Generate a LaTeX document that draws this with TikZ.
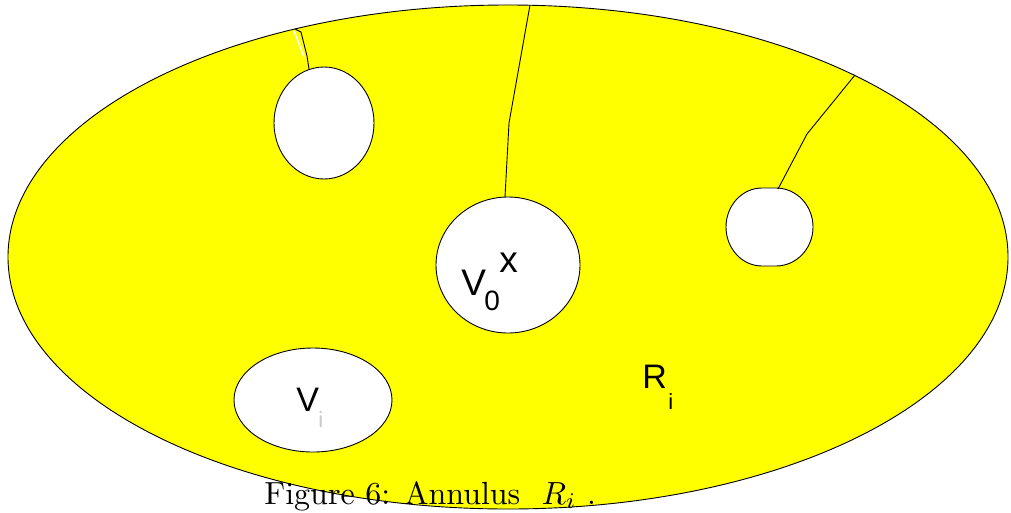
\documentclass[tikz,border=0pt]{standalone}
\usepackage{fontspec}
\newfontfamily\lab{Liberation Sans}
\definecolor{fillyellow}{RGB}{255,255,0}
\begin{document}
\begin{tikzpicture}[x=1pt,y=-1pt, line width=0.9pt,
  hole/.style={fill=white,draw=black},
  lbl/.style={inner sep=0pt, anchor=base west},
  bigl/.style={lbl, font=\lab\fontsize{37}{37}\selectfont},
  midl/.style={lbl, font=\lab\fontsize{34}{34}\selectfont},
  subl/.style={lbl, font=\lab\fontsize{28}{28}\selectfont},
  smalll/.style={lbl, font=\lab\fontsize{22}{22}\selectfont}]
\useasboundingbox (0,0) rectangle (1011,512);
\fill[white] (0,0) rectangle (1011,512);
% annulus
\draw[fill=fillyellow] (508,257) ellipse [x radius=500, y radius=252];
% holes
\draw[hole] (324,123) ellipse [x radius=50, y radius=56];
\draw[hole] (508,265) ellipse [x radius=72, y radius=68];
\draw[hole] (313,400) ellipse [x radius=79, y radius=52];
\draw[hole] (762,188) -- (776,188) arc[start angle=90, end angle=-90, x radius=37, y radius=-39]
  -- (762,266) arc[start angle=-90, end angle=-270, x radius=36, y radius=-39] -- cycle;
% cuts
\coordinate (c1a) at (295,29);
\coordinate (c1b) at (309,69);
\draw[white, line width=1.6pt] (294,31) -- (304,57);
\draw (c1a) -- (301,32) -- (307,56) -- (c1b);
\coordinate (c2a) at (530,5);
\coordinate (c2b) at (505,197);
\draw (c2a) -- (509,123) -- (c2b);
\coordinate (c3a) at (855,75);
\coordinate (c3b) at (778,189);
\draw (c3a) -- (807,134) -- (c3b);
% labels
\node[bigl] (v0) at (461,295) {V};
\node[subl] (v0s) at (484,310) {0};
\node[bigl] (x) at (499,272) {x};
\node[midl] (vi) at (296,411) {V};
\node[smalll, text=black!22] (vis) at (318,427) {i};
\node[midl] (ri) at (642,388) {R};
\node[smalll] (ris) at (668,409) {i};
% caption
\node[inner sep=0pt, anchor=base west, scale=3.2, transform shape] (cap) at (263,504) {Figure 6: Annulus\ \ $R_i$\,\,.};
\end{tikzpicture}
\end{document}
